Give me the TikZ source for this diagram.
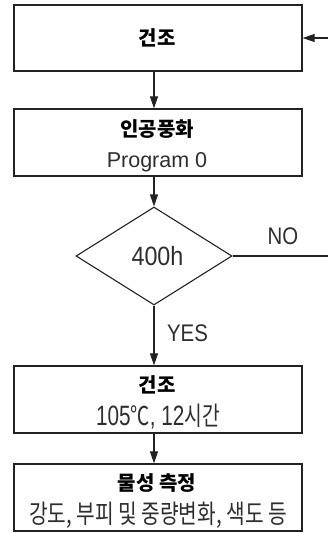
\documentclass[tikz,border=0pt]{standalone}
\usepackage{fontspec}
\usepackage{graphicx}
\setmainfont{Noto Sans CJK KR}
\newfontfamily\lat{Liberation Sans}
\usetikzlibrary{shapes.geometric,arrows.meta}
\definecolor{ink}{HTML}{222222}
\definecolor{soft}{HTML}{2E2E2E}
\newcommand\kbold[1]{{\fontsize{20}{24}\selectfont\bfseries #1}}
\newcommand\ksub[1]{{\fontsize{26}{30}\selectfont #1}}
\newcommand\lsub[1]{{\lat\fontsize{28}{32}\selectfont #1}}
\tikzset{
  box/.style={draw=ink, line width=1.3pt, minimum width=288pt, minimum height=67pt, inner sep=0pt},
  dec/.style={draw=ink, line width=1.1pt, diamond, minimum width=156pt, minimum height=98pt, inner sep=0pt},
  conn/.style={draw=ink, line width=1.1pt},
  arr/.style={conn, -{Triangle[length=12pt,width=8pt]}},
  txt/.style={inner sep=0pt, anchor=base, text=black},
  stxt/.style={inner sep=0pt, anchor=base, text=soft},
}
\begin{document}
\begin{tikzpicture}[x=1pt,y=-1pt]
\useasboundingbox (0,0) rectangle (328,533);
\node[box, minimum height=66pt] (b1) at (158,38) {};
\node[txt] (t1) at (157,45) {\kbold{건조}};
\node[box] (b2) at (158,142.5) {};
\node[txt] (t2a) at (157,136) {\kbold{인공풍화}};
\node[stxt] (t2b) at (157,167) {{\lat\fontsize{21.5}{25}\selectfont Program 0}};
\node[dec] (d) at (154,256) {};
\node[stxt] (t3) at (157.5,265) {\scalebox{0.88}[1]{\lat\fontsize{26.5}{30}\selectfont 400h}};
\node[box] (b3) at (158,399.5) {};
\node[txt] (t4a) at (157,392) {\kbold{건조}};
\node[stxt] (t4b) at (158,425) {\scalebox{0.74}[1]{\lsub{105}\ksub{℃}\lsub{, 12}\ksub{시간}}};
\node[box] (b4) at (158,497.5) {};
\node[txt] (t5a) at (157,490.5) {\kbold{물성 측정}};
\node[stxt] (t5b) at (158,523) {\scalebox{0.78}[1]{\ksub{강도, 부피 및 중량변화, 색도 등}}};
\node[stxt] (no) at (283,244) {\scalebox{0.85}[1]{\lat\fontsize{24}{28}\selectfont NO}};
\node[stxt] (yes) at (187.5,341.5) {\scalebox{0.85}[1]{\lat\fontsize{24}{28}\selectfont YES}};
\coordinate (eNO) at (328,256);
\coordinate (eTop) at (328,38);
\draw[arr] (b1.south -| d.north) -- (b2.north -| d.north);
\draw[arr] (b2.south -| d.north) -- (d.north);
\draw[arr] (d.south) -- (b3.north -| d.south);
\draw[arr] (b3.south -| d.south) -- (b4.north -| d.south);
\draw[conn] (d.east) -- (eNO);
\draw[arr] (eTop) -- (b1.east);
\end{tikzpicture}
\end{document}
